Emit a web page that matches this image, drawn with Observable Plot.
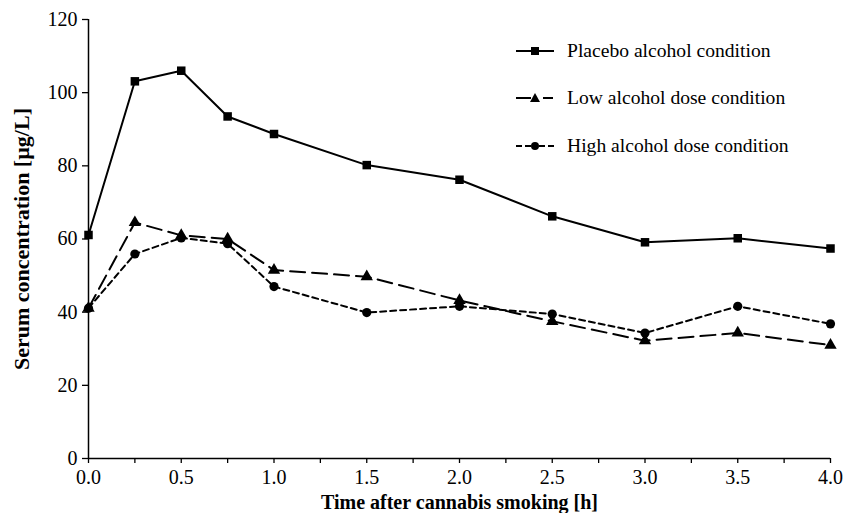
<!DOCTYPE html>
<html>
<head>
<meta charset="utf-8">
<script src="https://cdn.jsdelivr.net/npm/d3@7"></script>
<script src="https://cdn.jsdelivr.net/npm/@observablehq/plot@0.6"></script>
<style>
  html, body { margin: 0; padding: 0; background: #fff; }
  #wrap { position: relative; width: 846px; height: 513px; font-family: "Liberation Serif", "Times New Roman", serif; }
  #legend { position: absolute; left: 514px; top: 38px; }
  .row { position: absolute; left: 0; height: 26px; display: flex; align-items: center; white-space: nowrap; font-size: 19.6px; color: #000; }
  .row svg { margin-right: 11px; }
</style>
</head>
<body>
<div id="wrap"></div>
<script>
const times = [0, 0.25, 0.5, 0.75, 1.0, 1.5, 2.0, 2.5, 3.0, 3.5, 4.0];
const placebo = [61.1, 103.1, 106.0, 93.5, 88.7, 80.2, 76.2, 66.2, 59.1, 60.2, 57.4];
const lowDose = [41.1, 64.5, 61.0, 60.0, 51.5, 49.7, 43.2, 37.5, 32.2, 34.3, 31.0];
const highDose = [41.1, 55.9, 60.3, 58.7, 47.0, 39.9, 41.6, 39.5, 34.3, 41.6, 36.8];
const seriesNames = ["Placebo alcohol condition", "Low alcohol dose condition", "High alcohol dose condition"];
const yTicks = [0, 20, 40, 60, 80, 100, 120];
const xTicks = [0, 0.25, 0.5, 0.75, 1.0, 1.25, 1.5, 1.75, 2.0, 2.25, 2.5, 2.75, 3.0, 3.25, 3.5, 3.75, 4.0];
const xLabel = "Time after cannabis smoking [h]";
const yLabel = "Serum concentration [µg/L]";

const styles = [
  {dash: null, symbol: "square", r: 4.8},
  {dash: "15,7", symbol: "triangle", r: 4.6},
  {dash: "6,4", symbol: "circle", r: 4.6}
];
const seriesValues = [placebo, lowDose, highDose];
const rows = [];
seriesValues.forEach((vals, i) => vals.forEach((v, j) => rows.push({series: seriesNames[i], t: times[j], v})));

const marks = [];
seriesNames.forEach((name, i) => {
  const data = rows.filter(d => d.series === name);
  marks.push(Plot.line(data, {x: "t", y: "v", stroke: "black", strokeWidth: 2, strokeDasharray: styles[i].dash || undefined}));
});
seriesNames.forEach((name, i) => {
  const data = rows.filter(d => d.series === name);
  marks.push(Plot.dot(data, {x: "t", y: "v", symbol: () => styles[i].symbol, r: styles[i].r, fill: "black", stroke: "none"}));
});

const chart = Plot.plot({
  width: 846,
  height: 513,
  marginLeft: 88,
  marginRight: 16,
  marginTop: 19,
  marginBottom: 55,
  style: {fontFamily: "Liberation Serif, Times New Roman, serif", fontSize: "20px", color: "black", background: "white"},
  x: {domain: [0, 4]},
  y: {domain: [0, 120]},
  symbol: {type: "identity"},
  marks: [
    Plot.axisY({ticks: yTicks, tickSize: 6, tickPadding: 5, fontSize: 20, label: null, stroke: "black", strokeWidth: 1.3}),
    Plot.axisX({ticks: xTicks, tickSize: 5, tickPadding: 6, fontSize: 20, tickFormat: d => (Math.round(d * 100) % 50 === 0 ? d.toFixed(1) : ""), label: null, stroke: "black", strokeWidth: 1.3}),
    Plot.ruleX([0], {stroke: "black", strokeWidth: 1.5}),
    Plot.ruleY([0], {stroke: "black", strokeWidth: 1.5}),
    ...marks,
    Plot.text([xLabel], {frameAnchor: "bottom", dy: 44, lineAnchor: "middle", textAnchor: "middle", text: d => d, fontWeight: "bold", fontSize: 20, fill: "black"}),
    Plot.text([yLabel], {frameAnchor: "left", dx: -67, rotate: -90, textAnchor: "middle", lineAnchor: "middle", text: d => d, fontWeight: "bold", fontSize: 22, fill: "black"})
  ]
});

// force tick label size
d3.select(chart).selectAll("text")
  .filter(function () { return /^\d+(\.\d)?$/.test(this.textContent.trim()); })
  .style("font-size", "20px")
  .style("font-family", "'Liberation Serif', 'Times New Roman', serif")
  .style("font-variant", "normal");

const wrap = document.getElementById("wrap");
wrap.appendChild(chart);

// legend
const legend = document.createElement("div");
legend.id = "legend";
const tops = [0, 47, 95];
seriesNames.forEach((name, i) => {
  const row = document.createElement("div");
  row.className = "row";
  row.style.top = tops[i] + "px";
  let key = "";
  if (i === 0) {
    key = `<line x1="2" y1="13" x2="40" y2="13" stroke="black" stroke-width="2"/><rect x="17" y="9" width="8" height="8" fill="black"/>`;
  } else if (i === 1) {
    key = `<line x1="2" y1="13" x2="17" y2="13" stroke="black" stroke-width="2"/><line x1="29" y1="13" x2="39" y2="13" stroke="black" stroke-width="2"/><path d="M21,8 L26,17 L16,17 Z" fill="black"/>`;
  } else {
    key = `<line x1="2" y1="13" x2="8" y2="13" stroke="black" stroke-width="2"/><line x1="11" y1="13" x2="17" y2="13" stroke="black" stroke-width="2"/><line x1="25" y1="13" x2="31" y2="13" stroke="black" stroke-width="2"/><line x1="34" y1="13" x2="40" y2="13" stroke="black" stroke-width="2"/><circle cx="21" cy="13" r="4" fill="black"/>`;
  }
  row.innerHTML = `<svg width="42" height="26">${key}</svg><span>${name}</span>`;
  legend.appendChild(row);
});
wrap.appendChild(legend);
</script>
</body>
</html>
